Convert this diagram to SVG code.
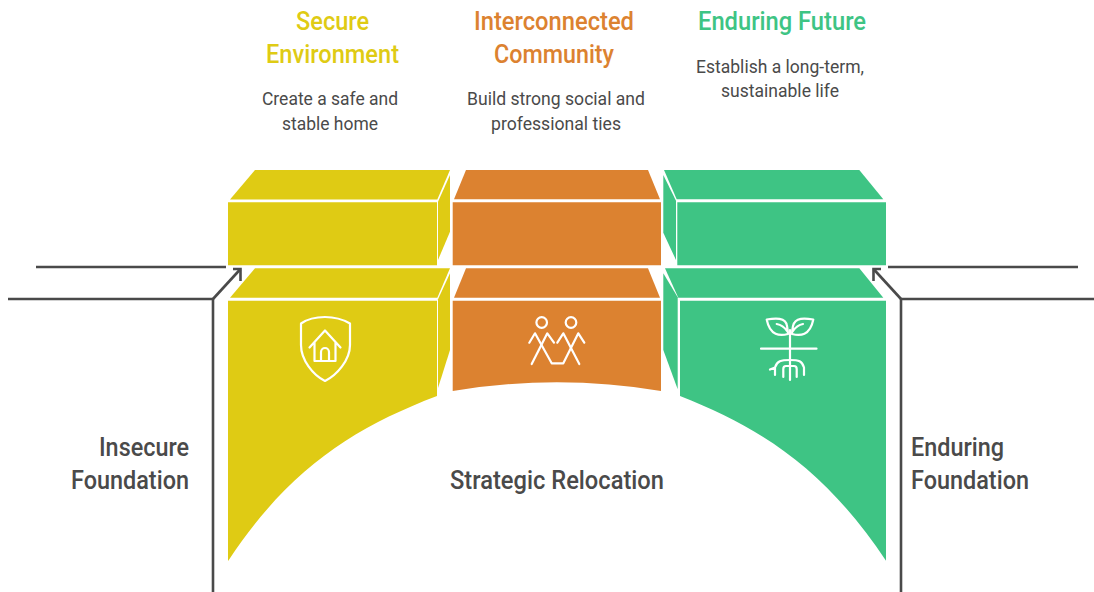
<svg xmlns="http://www.w3.org/2000/svg" width="1094" height="592" viewBox="0 0 1094 592">
<style>
text{font-family:Roboto,"Liberation Sans",sans-serif}
.t{font-size:25px;font-weight:500;text-anchor:middle}
.b{font-size:18px;fill:#4a4a4a;text-anchor:middle}
.l{font-size:25px;font-weight:500;fill:#4a4a4a}
.y{fill:#dfcb14}.o{fill:#dc8230}.g{fill:#3ec484}
.i{fill:none;stroke:#fff;stroke-width:2.2;stroke-linejoin:round;stroke-linecap:round}
.c{fill:none;stroke:#4a4a4a;stroke-width:2.6}
</style>
<rect width="1094" height="592" fill="#fff"/>
<g id="connectors">
<path class="c" d="M36 267H226"/>
<path class="c" d="M8 299H213V592"/>
<path class="c" d="M213 299L240.500 269"/>
<path class="c" d="M233 269H240.500V281"/>
<path class="c" d="M888 267H1078"/>
<path class="c" d="M1094 299H901V592"/>
<path class="c" d="M901 299L873.500 269"/>
<path class="c" d="M881 269H873.500V281"/>
</g>
<g id="secure-environment">
<path class="y" d="M255 170H450L437.300 199.500H230Z"/>
<path class="y" d="M228 202.300H437V265.300H228Z"/>
<path class="y" d="M450 175L438 201.700V260L450 231.700Z"/>
<path class="y" d="M255 268.300H450L437.300 297.700H230Z"/>
<path class="y" d="M228 300.700H437V396C352 428.300 288.300 470 228.300 560.700H228Z"/>
<path class="y" d="M450 273.300L438 299.300V388L450 350Z"/>
<path class="i" d="M325 317C315 317 306 320 301 323.500V345C301 360 313 375 325 381C337 375 350 360 350 345V323.500C344 320 335 317 325 317Z"/>
<path class="i" d="M309.500 347.500L325 330.500L340.500 347.500M314.500 342V361H335.500V342M321 361V352A4 4 0 0 1 329 352V361"/>
<text class="t y" x="332.500" y="30" textLength="73" lengthAdjust="spacingAndGlyphs">Secure</text>
<text class="t y" x="332.500" y="63" textLength="133" lengthAdjust="spacingAndGlyphs">Environment</text>
<text class="b" x="330" y="105" textLength="136" lengthAdjust="spacingAndGlyphs">Create a safe and</text>
<text class="b" x="330" y="130" textLength="96" lengthAdjust="spacingAndGlyphs">stable home</text>
</g>
<g id="interconnected-community">
<path class="o" d="M466 170H648L660 199.300H454Z"/>
<path class="o" d="M452.700 202.300H661V265.300H452.700Z"/>
<path class="o" d="M466 268.300H648L660 297.700H454Z"/>
<path class="o" d="M452.700 300.700H661V391Q557 373.600 452.700 391Z"/>
<circle class="i" cx="541.700" cy="322.500" r="5.300"/>
<circle class="i" cx="571" cy="322.500" r="5.300"/>
<path class="i" d="M529.300 342.700L535 333.300L551.700 363.300H563.300L578.300 333.300L584.300 342.700"/>
<path class="i" d="M554 342.700L547.300 333.300L531.700 364"/>
<path class="i" d="M557.300 342.700L563.300 333.300L579.300 364"/>
<text class="t o" x="554" y="30" textLength="160" lengthAdjust="spacingAndGlyphs">Interconnected</text>
<text class="t o" x="554" y="63" textLength="120" lengthAdjust="spacingAndGlyphs">Community</text>
<text class="b" x="556" y="105" textLength="178" lengthAdjust="spacingAndGlyphs">Build strong social and</text>
<text class="b" x="556" y="130" textLength="130" lengthAdjust="spacingAndGlyphs">professional ties</text>
</g>
<g id="enduring-future">
<path class="g" d="M664 170H859.300L883.300 199.300H676.700Z"/>
<path class="g" d="M677.300 202.300H886V265.300H677.300Z"/>
<path class="g" d="M663.300 175L676 200.700V260L663.300 232.700Z"/>
<path class="g" d="M665 268.300H859.300L883.300 297.700H678.300Z"/>
<path class="g" d="M680 300.700H886V560.700C825.700 470 762 428.300 680 396Z"/>
<path class="g" d="M663.300 273.300L677.700 297.300V389.300L663.300 350Z"/>
<path class="i" d="M790 330V380M761 348.700H816.500"/>
<path class="i" d="M766.700 319.500C775 318 786 317 787 326C788 331 788 333 788 334C780 336 770 336 766.700 319.500ZM776.700 324C782 325 785 328 787 331"/>
<path class="i" d="M813.300 319.500C805 318 795 317 793 326C792 331 792 333 792 334C800 336 810 336 813.300 319.500ZM803 324C798 325 795 328 793 331"/>
<path class="i" d="M770 369.500L775 367.500V375M775 367.500C777 361 781 360 790 360C799 360 802 361 804 367.500V375M783.300 377V369Q783.300 366 786 366H790M796.700 377V369Q796.700 366 794 366H790"/>
<text class="t g" x="782" y="30" textLength="168" lengthAdjust="spacingAndGlyphs">Enduring Future</text>
<text class="b" x="780" y="73" textLength="168" lengthAdjust="spacingAndGlyphs">Establish a long-term,</text>
<text class="b" x="780" y="97" textLength="118" lengthAdjust="spacingAndGlyphs">sustainable life</text>
</g>
<g id="insecure-foundation">
<text class="l" x="189" y="456" text-anchor="end" textLength="90" lengthAdjust="spacingAndGlyphs">Insecure</text>
<text class="l" x="189" y="489" text-anchor="end" textLength="118" lengthAdjust="spacingAndGlyphs">Foundation</text>
</g>
<g id="strategic-relocation">
<text class="l" x="557" y="489" text-anchor="middle" textLength="214" lengthAdjust="spacingAndGlyphs">Strategic Relocation</text>
</g>
<g id="enduring-foundation">
<text class="l" x="911" y="456" textLength="93" lengthAdjust="spacingAndGlyphs">Enduring</text>
<text class="l" x="911" y="489" textLength="118" lengthAdjust="spacingAndGlyphs">Foundation</text>
</g>
</svg>
